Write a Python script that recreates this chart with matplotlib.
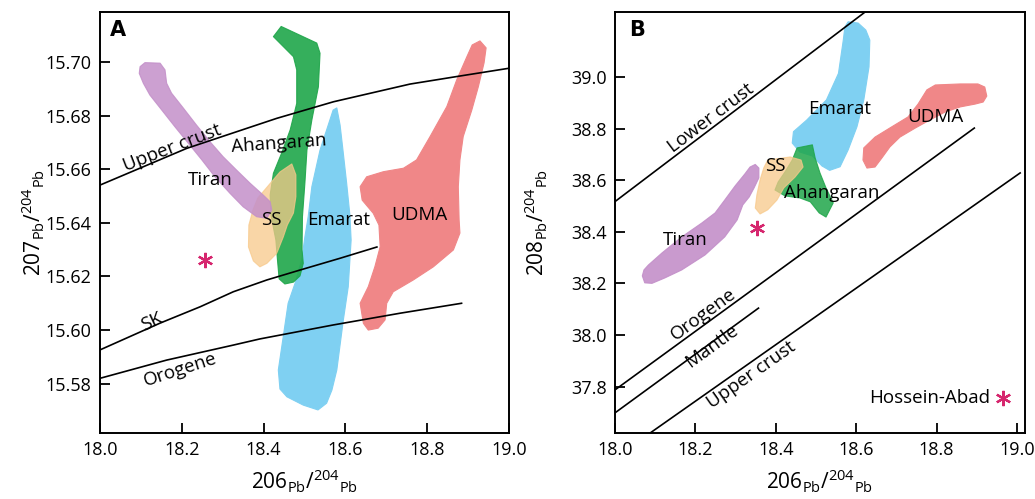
import numpy as np
import matplotlib
matplotlib.use("Agg")
import matplotlib.pyplot as plt
from matplotlib.ticker import FormatStrFormatter

plt.rcParams['font.family'] = ['Open Sans', 'DejaVu Sans']
plt.rcParams['mathtext.default'] = 'regular'

# ---------------- panel A : 207Pb/204Pb vs 206Pb/204Pb ----------------
tiran_a_x = [18.110, 18.147, 18.159, 18.163, 18.175, 18.204, 18.236, 18.269, 18.301, 18.334, 18.367, 18.399, 18.416,
             18.420, 18.408, 18.383, 18.350, 18.318, 18.281, 18.249, 18.216, 18.183, 18.151, 18.122, 18.106, 18.096, 18.098]
tiran_a_y = [15.6998, 15.6996, 15.6971, 15.6921, 15.6884, 15.6828, 15.6765, 15.6703, 15.6647, 15.6597, 15.6548, 15.6504,
             15.6479, 15.6448, 15.6417, 15.6423, 15.6460, 15.6510, 15.6572, 15.6635, 15.6697, 15.6759, 15.6821, 15.6877,
             15.6921, 15.6958, 15.6983]

ahangaran_a_x = [18.424, 18.443, 18.530, 18.538, 18.534, 18.518, 18.506, 18.501, 18.495, 18.494, 18.497, 18.489, 18.473,
                 18.452, 18.438, 18.434, 18.430, 18.418, 18.416, 18.424, 18.444, 18.465, 18.481, 18.481, 18.473]
ahangaran_a_y = [15.7095, 15.7133, 15.7071, 15.7033, 15.6908, 15.6784, 15.6672, 15.6549, 15.6423, 15.6299, 15.6249,
                 15.6202, 15.6179, 15.6172, 15.6191, 15.6261, 15.6336, 15.6429, 15.6504, 15.6585, 15.6660, 15.6747,
                 15.6846, 15.6971, 15.7020]

ss_a_x = [18.469, 18.479, 18.479, 18.473, 18.458, 18.448, 18.432, 18.408, 18.391, 18.375, 18.363, 18.364, 18.374,
          18.386, 18.411, 18.440]
ss_a_y = [15.6620, 15.6579, 15.6498, 15.6437, 15.6392, 15.6347, 15.6286, 15.6249, 15.6236, 15.6258, 15.6310, 15.6392,
          15.6448, 15.6493, 15.6538, 15.6590]

emarat_a_x = [18.579, 18.587, 18.594, 18.603, 18.611, 18.614, 18.607, 18.595, 18.579, 18.567, 18.554, 18.533, 18.497,
              18.457, 18.440, 18.436, 18.448, 18.460, 18.477, 18.493, 18.501, 18.509, 18.518, 18.538, 18.558, 18.570]
emarat_a_y = [15.6829, 15.6765, 15.6672, 15.6549, 15.6429, 15.6336, 15.6162, 15.6038, 15.5851, 15.5776, 15.5727,
              15.5702, 15.5720, 15.5751, 15.5780, 15.5851, 15.5975, 15.6100, 15.6175, 15.6261, 15.6348, 15.6423,
              15.6535, 15.6672, 15.6765, 15.6821]

udma_a_x = [18.929, 18.944, 18.939, 18.925, 18.909, 18.888, 18.880, 18.876, 18.878, 18.880, 18.864, 18.815, 18.766,
            18.717, 18.701, 18.697, 18.680, 18.656, 18.644, 18.636, 18.656, 18.672, 18.685, 18.682, 18.668, 18.641,
            18.636, 18.652, 18.693, 18.742, 18.774, 18.807, 18.848, 18.872, 18.897, 18.910]
udma_a_y = [15.7079, 15.7053, 15.6997, 15.6908, 15.6821, 15.6722, 15.6635, 15.6535, 15.6411, 15.6362, 15.6299,
            15.6236, 15.6187, 15.6143, 15.6100, 15.6038, 15.6007, 15.6000, 15.6025, 15.6100, 15.6162, 15.6236,
            15.6311, 15.6392, 15.6436, 15.6485, 15.6535, 15.6572, 15.6591, 15.6604, 15.6635, 15.6722, 15.6834,
            15.6933, 15.7020, 15.7064]

upper_crust_a_x = [18.0, 18.212, 18.432, 18.571, 18.758, 18.880, 19.0]
upper_crust_a_y = [15.6541, 15.6678, 15.6790, 15.6852, 15.6918, 15.6948, 15.6977]
sk_a_x = [18.0, 18.147, 18.245, 18.326, 18.408, 18.489, 18.587, 18.677]
sk_a_y = [15.5926, 15.6026, 15.6087, 15.6143, 15.6187, 15.6224, 15.6268, 15.6310]
orogene_a_x = [18.0, 18.163, 18.326, 18.391, 18.570, 18.734, 18.884]
orogene_a_y = [15.5820, 15.5888, 15.5944, 15.5967, 15.6019, 15.6063, 15.6100]

hossein_a = (18.257, 15.626)

# ---------------- panel B : 208Pb/204Pb vs 206Pb/204Pb ----------------
tiran_b_x = [18.349, 18.358, 18.358, 18.346, 18.334, 18.318, 18.304, 18.273, 18.224, 18.166, 18.124, 18.092, 18.074,
             18.068, 18.072, 18.083, 18.117, 18.166, 18.216, 18.249, 18.273, 18.299, 18.323, 18.336]
tiran_b_y = [38.661, 38.647, 38.609, 38.570, 38.535, 38.504, 38.446, 38.380, 38.310, 38.252, 38.221, 38.200, 38.202,
             38.229, 38.252, 38.271, 38.318, 38.380, 38.434, 38.473, 38.523, 38.578, 38.624, 38.651]

ss_b_x = [18.380, 18.436, 18.463, 18.468, 18.448, 18.420, 18.403, 18.380, 18.361, 18.349, 18.353, 18.361, 18.370]
ss_b_y = [38.678, 38.690, 38.678, 38.651, 38.612, 38.570, 38.523, 38.485, 38.469, 38.492, 38.543, 38.601, 38.647]

ahangaran_b_x = [18.453, 18.491, 18.498, 18.510, 18.525, 18.543, 18.525, 18.508, 18.486, 18.460, 18.423, 18.398,
                 18.406, 18.423, 18.441]
ahangaran_b_y = [38.725, 38.737, 38.686, 38.628, 38.570, 38.512, 38.457, 38.473, 38.516, 38.531, 38.539, 38.562,
                 38.593, 38.632, 38.678]

emarat_b_x = [18.580, 18.605, 18.624, 18.634, 18.632, 18.619, 18.602, 18.580, 18.560, 18.534, 18.515, 18.491, 18.460,
              18.441, 18.444, 18.477, 18.526, 18.556, 18.568, 18.572]
emarat_b_y = [39.214, 39.209, 39.182, 39.143, 39.039, 38.911, 38.807, 38.717, 38.652, 38.638, 38.655, 38.694, 38.709,
              38.744, 38.788, 38.833, 38.911, 39.014, 39.143, 39.194]

udma_b_x = [18.797, 18.859, 18.903, 18.920, 18.925, 18.916, 18.896, 18.859, 18.821, 18.783, 18.747, 18.709, 18.684,
            18.664, 18.647, 18.627, 18.617, 18.619, 18.647, 18.692, 18.729, 18.754, 18.776]
udma_b_y = [38.969, 38.973, 38.973, 38.961, 38.926, 38.903, 38.895, 38.884, 38.864, 38.833, 38.802, 38.767, 38.729,
            38.686, 38.651, 38.647, 38.678, 38.725, 38.767, 38.810, 38.845, 38.895, 38.950]

lower_crust_b_x = [18.0, 18.663]
lower_crust_b_y = [38.517, 39.300]
orogene_b_x = [18.0, 18.894]
orogene_b_y = [37.787, 38.802]
mantle_b_x = [18.0, 18.357]
mantle_b_y = [37.698, 38.104]
upper_crust_b_x = [18.051, 19.008]
upper_crust_b_y = [37.580, 38.628]

hossein_b = (18.353, 38.415)

# colours
c_tiran = '#c38fc9'
c_ahang = '#1fa64a'
c_ss = '#f8c98a'
c_emarat = '#7fd0f2'
c_udma = '#f08788'
c_star = '#d6266e'

xlab = '206$_{Pb}$/$^{204}$$_{Pb}$'

fig = plt.figure(figsize=(10.35, 4.99), dpi=100)
axA = fig.add_axes([0.0966, 0.1323, 0.3952, 0.8437])
axB = fig.add_axes([0.5942, 0.1323, 0.3961, 0.8437])


def field(ax, x, y, col, z, a=1.0):
    ax.fill(x, y, color=col, alpha=a, lw=0.8, ec=col, zorder=z, joinstyle='round')


def style(ax, xmax):
    for s in ['top', 'right', 'left', 'bottom']:
        ax.spines[s].set_linewidth(1.4)
    ax.tick_params(direction='in', length=7, width=1.3, labelsize=13, pad=6,
                   top=False, right=False)
    ax.set_xlim(18.0, xmax)
    ax.set_xticks(np.arange(18.0, 19.01, 0.2))
    ax.xaxis.set_major_formatter(FormatStrFormatter('%.1f'))
    ax.set_xlabel(xlab, fontsize=15, labelpad=6)


# panel A
field(axA, emarat_a_x, emarat_a_y, c_emarat, 2)
field(axA, udma_a_x, udma_a_y, c_udma, 2)
field(axA, ahangaran_a_x, ahangaran_a_y, c_ahang, 3, 0.9)
field(axA, ss_a_x, ss_a_y, c_ss, 4, 0.75)
field(axA, tiran_a_x, tiran_a_y, c_tiran, 5, 0.85)
axA.plot(upper_crust_a_x, upper_crust_a_y, color='k', lw=1.2, zorder=6)
axA.plot(sk_a_x, sk_a_y, color='k', lw=1.2, zorder=6)
axA.plot(orogene_a_x, orogene_a_y, color='k', lw=1.2, zorder=6)
axA.plot(*hossein_a, marker=(6, 2, 0), ms=11, mew=1.6, color=c_star, zorder=7)

style(axA, 19.0)
axA.set_ylim(15.5616, 15.7187)
axA.set_yticks(np.arange(15.58, 15.701, 0.02))
axA.yaxis.set_major_formatter(FormatStrFormatter('%.2f'))
axA.set_ylabel('207$_{Pb}$/$^{204}$$_{Pb}$', fontsize=15, labelpad=-1)

fs = 13.5
axA.text(0.044, 0.957, 'A', transform=axA.transAxes, fontsize=15, fontweight='bold',
         ha='center', va='center', family=['DejaVu Sans'])
axA.text(18.177, 15.6678, 'Upper crust', fontsize=fs, rotation=21, ha='center', va='center', zorder=8)
axA.text(18.438, 15.6697, 'Ahangaran', fontsize=fs, rotation=4, ha='center', va='center', zorder=8)
axA.text(18.269, 15.6560, 'Tiran', fontsize=fs, ha='center', va='center', zorder=8)
axA.text(18.420, 15.6411, 'SS', fontsize=fs, ha='center', va='center', zorder=8)
axA.text(18.583, 15.6411, 'Emarat', fontsize=fs, ha='center', va='center', zorder=8)
axA.text(18.782, 15.6429, 'UDMA', fontsize=fs, ha='center', va='center', zorder=8)
axA.text(18.126, 15.6031, 'SK', fontsize=fs, rotation=25, ha='center', va='center', zorder=8)
axA.text(18.196, 15.5851, 'Orogene', fontsize=fs, rotation=18, ha='center', va='center', zorder=8)

# panel B
field(axB, emarat_b_x, emarat_b_y, c_emarat, 2)
field(axB, udma_b_x, udma_b_y, c_udma, 2)
field(axB, ahangaran_b_x, ahangaran_b_y, c_ahang, 3, 0.85)
field(axB, ss_b_x, ss_b_y, c_ss, 4, 0.75)
field(axB, tiran_b_x, tiran_b_y, c_tiran, 5, 0.9)
for lx, ly in [(lower_crust_b_x, lower_crust_b_y), (orogene_b_x, orogene_b_y),
               (mantle_b_x, mantle_b_y), (upper_crust_b_x, upper_crust_b_y)]:
    axB.plot(lx, ly, color='k', lw=1.2, zorder=6)
axB.plot(*hossein_b, marker=(6, 2, 0), ms=11, mew=1.6, color=c_star, zorder=7)

style(axB, 19.02)
axB.set_ylim(37.62, 39.252)
axB.set_yticks(np.arange(37.8, 39.01, 0.2))
axB.yaxis.set_major_formatter(FormatStrFormatter('%.1f'))
axB.set_ylabel('208$_{Pb}$/$^{204}$$_{Pb}$', fontsize=15, labelpad=15)

axB.text(0.054, 0.957, 'B', transform=axB.transAxes, fontsize=15, fontweight='bold',
         ha='center', va='center', family=['DejaVu Sans'])
axB.text(18.239, 38.840, 'Lower crust', fontsize=fs, rotation=37, ha='center', va='center', zorder=8)
axB.text(18.560, 38.875, 'Emarat', fontsize=fs, ha='center', va='center', zorder=8)
axB.text(18.797, 38.846, 'UDMA', fontsize=fs, ha='center', va='center', zorder=8)
axB.text(18.398, 38.655, 'SS', fontsize=fs, ha='center', va='center', zorder=8)
axB.text(18.540, 38.552, 'Ahangaran', fontsize=fs, ha='center', va='center', zorder=8)
axB.text(18.174, 38.368, 'Tiran', fontsize=fs, ha='center', va='center', zorder=8)
axB.text(18.219, 38.078, 'Orogene', fontsize=fs, rotation=36, ha='center', va='center', zorder=8)
axB.text(18.241, 37.955, 'Mantle', fontsize=fs, rotation=36, ha='center', va='center', zorder=8)
axB.text(18.340, 37.845, 'Upper crust', fontsize=fs, rotation=35, ha='center', va='center', zorder=8)

# legend for the Hossein-Abad sample
axB.text(0.915, 0.083, 'Hossein-Abad', transform=axB.transAxes, fontsize=fs, ha='right', va='center')
axB.plot(0.946, 0.083, transform=axB.transAxes, marker=(6, 2, 0), ms=11, mew=1.6, color=c_star)

fig.savefig('out.png', dpi=100)
